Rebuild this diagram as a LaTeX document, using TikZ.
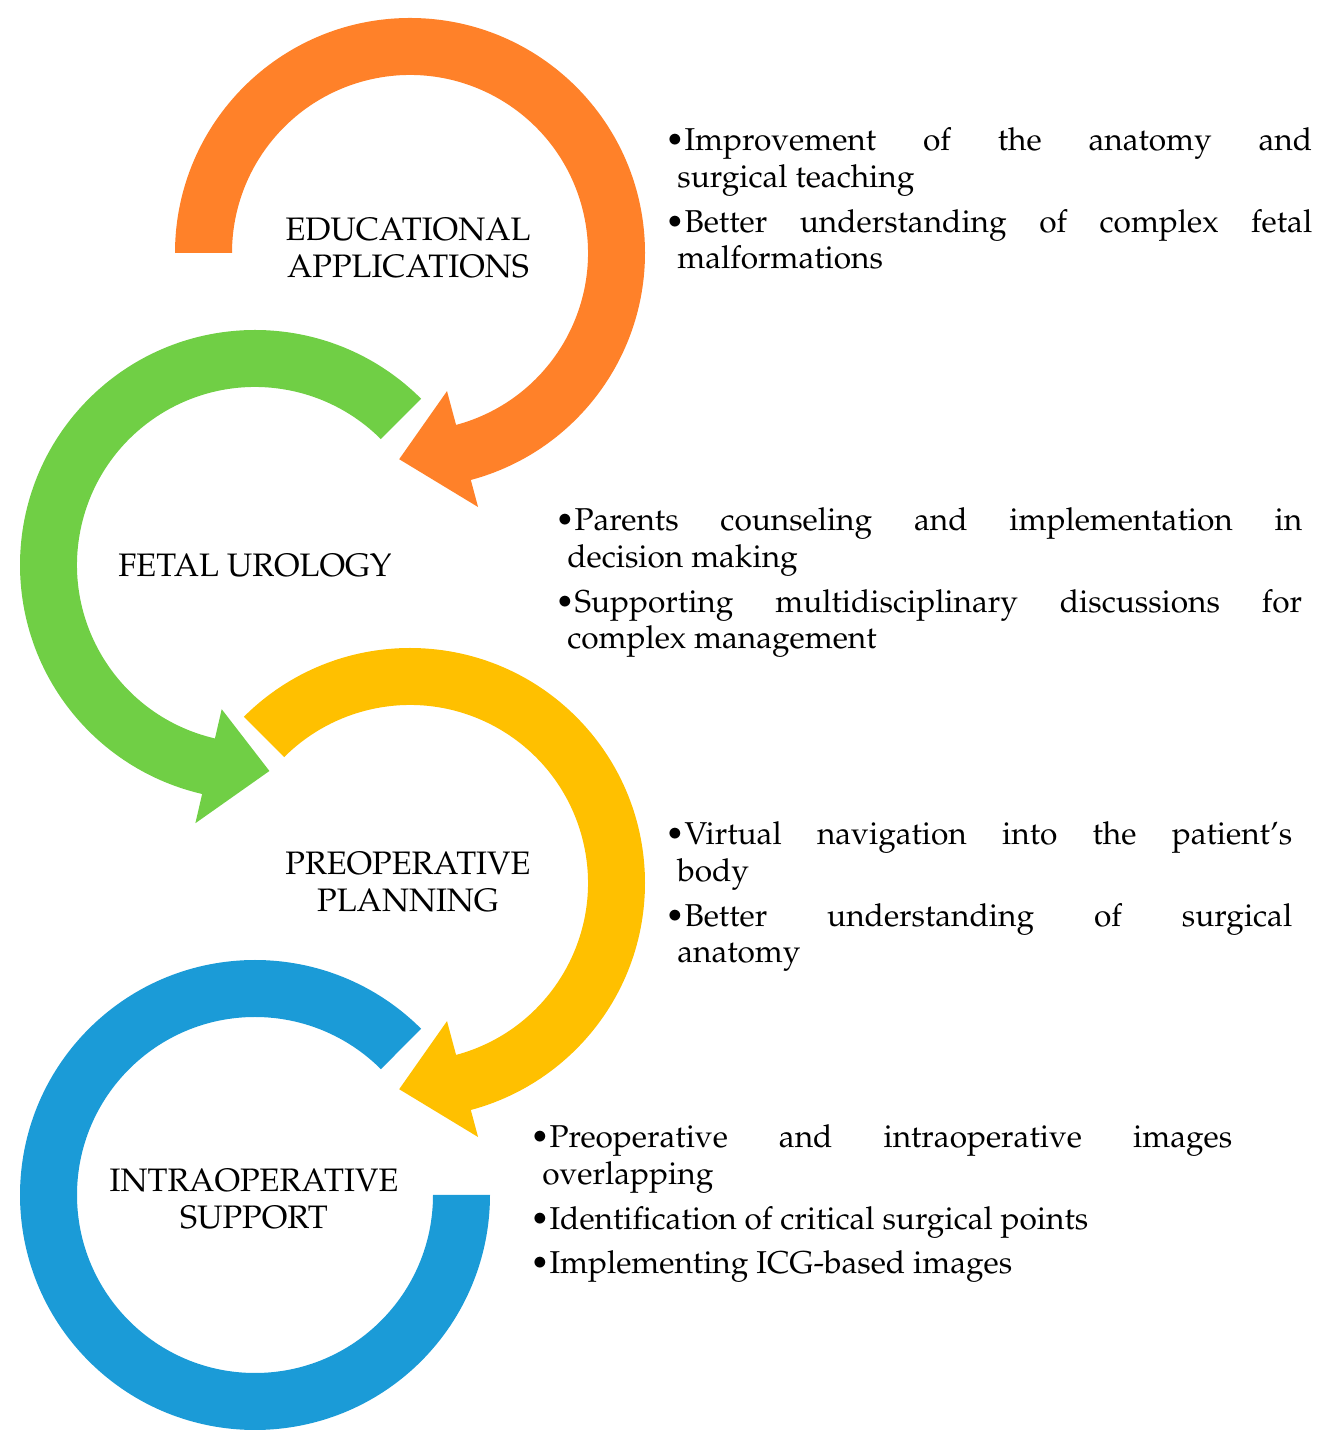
\documentclass[tikz,border=0pt]{standalone}
\usepackage[T1]{fontenc}
\usepackage{mathpazo}
\usetikzlibrary{calc}
\definecolor{cor}{HTML}{FF8129}
\definecolor{cgr}{HTML}{70CF45}
\definecolor{cye}{HTML}{FFC000}
\definecolor{cbl}{HTML}{1B9BD7}
\tikzset{
 lab/.style={align=center,inner sep=0,font=\fontsize{18.5}{21.5}\selectfont},
 txt/.style={anchor=north west,inner sep=0,align=justify,font=\fontsize{18}{21}\selectfont},
}
\newcommand{\bit}[1]{\par\hangindent=0.24cm\hangafter=1\textbullet#1\par}
\begin{document}
\begin{tikzpicture}[x=0.02cm,y=0.02cm]
\useasboundingbox (0,0) rectangle (1323,1451);
% orange
\coordinate (co) at (410,1198);
\fill[cor] ($(co)+(180:235)$) arc[start angle=180,end angle=-75,radius=235]
 -- ($(co)+(-75:263)$) -- ($(co)+(-93:206.5)$) -- ($(co)+(-75:143)$) -- ($(co)+(-75:178)$)
 arc[start angle=-75,end angle=180,radius=178] -- cycle;
% green
\coordinate (cg) at (255,886);
\fill[cgr] ($(cg)+(45:235)$) arc[start angle=45,end angle=257,radius=235]
 -- ($(cg)+(257:265)$) -- ($(cg)+(274:206.5)$) -- ($(cg)+(257:148)$) -- ($(cg)+(257:178)$)
 arc[start angle=257,end angle=45,radius=178] -- cycle;
% yellow
\coordinate (cy) at (410,568);
\fill[cye] ($(cy)+(135:235)$) arc[start angle=135,end angle=-75,radius=235]
 -- ($(cy)+(-75:263)$) -- ($(cy)+(-93:206.5)$) -- ($(cy)+(-75:143)$) -- ($(cy)+(-75:178)$)
 arc[start angle=-75,end angle=135,radius=178] -- cycle;
% blue
\coordinate (cb) at (255,256);
\fill[cbl] ($(cb)+(45:235)$) arc[start angle=45,end angle=360,radius=235]
 -- ($(cb)+(0:178)$) arc[start angle=360,end angle=45,radius=178] -- cycle;
% labels
\node[lab] (l1) at (408,1203) {EDUCATIONAL\\APPLICATIONS};
\node[lab] (l2) at (255,885) {FETAL UROLOGY};
\node[lab] (l3) at (408,569) {PREOPERATIVE\\PLANNING};
\node[lab] (l4) at (254,252) {INTRAOPERATIVE\\SUPPORT};
% texts
\node[txt,text width=12.94cm] (t1) at (665,1346) {\parskip=0.16cm
\bit{Improvement of the anatomy and\linebreak surgical teaching}
\bit{Better understanding of complex fetal\linebreak malformations}};
\node[txt,text width=14.94cm] (t2) at (555,966) {\parskip=0.16cm
\bit{Parents counseling and implementation in\linebreak decision making}
\bit{Supporting multidisciplinary discussions for\linebreak complex management}};
\node[txt,text width=12.54cm] (t3) at (665,652) {\parskip=0.16cm
\bit{Virtual navigation into the patient's\linebreak body}
\bit{Better understanding of surgical\linebreak anatomy}};
\node[txt,text width=14.04cm] (t4) at (530,349) {\parskip=0.16cm
\bit{Preoperative and intraoperative images\linebreak overlapping}
\bit{Identification of critical surgical points}
\bit{Implementing ICG-based images}};
\end{tikzpicture}
\end{document}
